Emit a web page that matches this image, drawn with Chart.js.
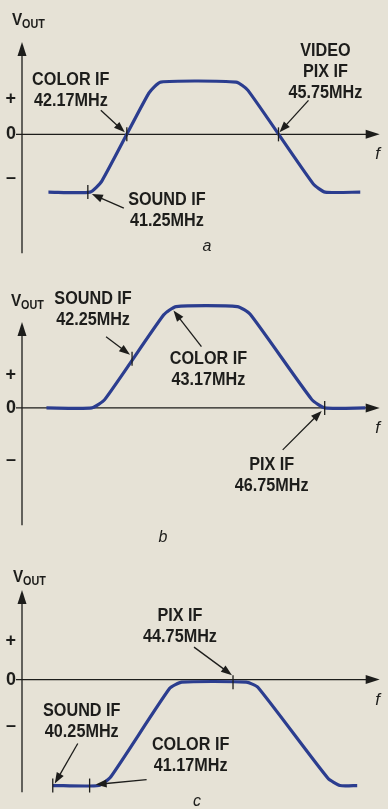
<!DOCTYPE html>
<html>
<head>
<meta charset="utf-8">
<script src="https://cdn.jsdelivr.net/npm/chart.js@4.4.0/dist/chart.umd.min.js"></script>
<style>
  html, body { margin: 0; padding: 0; background: #e6e2d6; }
  body { width: 388px; height: 809px; position: relative; overflow: hidden; }
  canvas { position: absolute; left: 0; }
</style>
</head>
<body>
<canvas id="panelA" width="388" height="270" style="top:0px"></canvas>
<canvas id="panelB" width="388" height="272" style="top:270px"></canvas>
<canvas id="panelC" width="388" height="269" style="top:540px"></canvas>
<script>
// IF response curves: frequency (MHz) against relative output level
const A_FREQ = [40.32, 41.30, 41.58, 42.69, 42.97, 44.75, 45.03, 46.57, 46.85, 47.68];
const A_VOUT = [-1.05, -1.05, -0.85, 0.75, 0.95, 0.95, 0.80, -0.90, -1.05, -1.05];

const B_FREQ = [40.25, 41.31, 41.61, 42.99, 43.28, 44.71, 45.01, 46.45, 46.75, 47.70];
const B_VOUT = [0, 0, 0.16, 1.80, 1.96, 1.96, 1.81, 0.16, 0, 0];

const C_FREQ = [40.25, 41.40, 41.70, 43.17, 43.47, 45.08, 45.37, 47.12, 47.42, 47.85];
const C_VOUT = [-2.05, -2.05, -1.88, -0.17, -0.05, -0.05, -0.15, -1.91, -2.05, -2.05];

// marked carriers on each curve
const A_MARK_NAME = ['SOUND IF', 'COLOR IF', 'VIDEO\nPIX IF'];
const A_MARK_FREQ = [41.25, 42.17, 45.75];
const A_MARK_VOUT = [-1.05, 0, 0];

const B_MARK_NAME = ['SOUND IF', 'COLOR IF', 'PIX IF'];
const B_MARK_FREQ = [42.25, 43.17, 46.75];
const B_MARK_VOUT = [0.95, 1.96, 0];

const C_MARK_NAME = ['SOUND IF', 'COLOR IF', 'PIX IF'];
const C_MARK_FREQ = [40.25, 41.17, 44.75];
const C_MARK_VOUT = [-2.05, -2.05, -0.05];

// level axis labels
const LEVEL_LABELS = ['+', '0', '\u2013'];
const A_LEVEL_AT = [0.64, 0, -0.79];
const B_LEVEL_AT = [0.63, 0, -1.01];
const C_LEVEL_AT = [0.75, 0, -0.89];

const INK = '#1d1d1b';
const CURVE = '#2b3d8f';
const FONT = '"Liberation Sans", Arial, sans-serif';
const SQUEEZE = 0.9;  // condensed lettering

function arrowHead(ctx, x1, y1, x2, y2, len, half) {
  const a = Math.atan2(y2 - y1, x2 - x1);
  const c = Math.cos(a), s = Math.sin(a);
  ctx.beginPath();
  ctx.moveTo(x2, y2);
  ctx.lineTo(x2 - len * c + half * s, y2 - len * s - half * c);
  ctx.lineTo(x2 - len * c - half * s, y2 - len * s + half * c);
  ctx.closePath();
  ctx.fill();
}

function condensed(ctx, text, x, y) {
  ctx.save();
  ctx.translate(x, y);
  ctx.scale(SQUEEZE, 1);
  ctx.fillText(text, 0, 0);
  ctx.restore();
}

const figure = {
  id: 'figure',
  beforeDatasetsDraw(chart) {
    const { ctx, chartArea: area, scales: { y } } = chart;
    const y0 = y.getPixelForValue(0);
    ctx.save();
    ctx.strokeStyle = INK;
    ctx.fillStyle = INK;
    ctx.lineWidth = 1.3;
    ctx.beginPath();
    ctx.moveTo(area.left - 6, y0);
    ctx.lineTo(area.right - 8, y0);
    ctx.moveTo(area.left, area.bottom);
    ctx.lineTo(area.left, area.top + 8);
    ctx.stroke();
    arrowHead(ctx, area.left - 6, y0, area.right, y0, 14, 4.5);
    arrowHead(ctx, area.left, area.bottom, area.left, area.top, 14, 4.5);
    ctx.restore();
  },
  afterDatasetsDraw(chart, args, opts) {
    const { ctx, chartArea: area, scales: { x, y } } = chart;
    const y0 = y.getPixelForValue(0);
    ctx.save();
    ctx.fillStyle = INK;
    ctx.strokeStyle = INK;

    // axis names
    ctx.textAlign = 'left';
    ctx.textBaseline = 'alphabetic';
    ctx.font = 'bold 17px ' + FONT;
    const vx = area.left + opts.vout[0], vy = area.top + opts.vout[1];
    condensed(ctx, 'V', vx, vy);
    ctx.font = 'bold 12px ' + FONT;
    condensed(ctx, 'OUT', vx + 10, vy + 3);
    ctx.font = 'italic 17px ' + FONT;
    ctx.textAlign = 'center';
    ctx.fillText('f', area.right - 2, y0 + 25);

    // panel letter
    ctx.font = 'italic 16px ' + FONT;
    ctx.fillText(opts.caption, opts.captionAt[0], opts.captionAt[1]);

    // carrier notes with leader arrows
    ctx.font = 'bold 18px ' + FONT;
    ctx.lineWidth = 1.3;
    opts.freq.forEach((f, i) => {
      const px = x.getPixelForValue(f);
      const py = y.getPixelForValue(opts.vout0[i]);
      const note = opts.notes[i];
      const lines = opts.names[i].split('\n').concat(f.toFixed(2) + 'MHz');
      lines.forEach((t, k) => {
        condensed(ctx, t, px + note.dx, py + note.dy + k * 21 + 7);
      });
      const x1 = px + note.from[0], y1 = py + note.from[1];
      const x2 = px + note.to[0], y2 = py + note.to[1];
      const a = Math.atan2(y2 - y1, x2 - x1);
      ctx.beginPath();
      ctx.moveTo(x1, y1);
      ctx.lineTo(x2 - 8 * Math.cos(a), y2 - 8 * Math.sin(a));
      ctx.stroke();
      arrowHead(ctx, x1, y1, x2, y2, 11, 4);
    });
    ctx.restore();
  }
};

function panel(id, cfg) {
  const curve = cfg.freq.map((f, i) => ({ x: f, y: cfg.vout[i] }));
  const marks = cfg.markFreq.map((f, i) => ({ x: f, y: cfg.markVout[i] }));
  return new Chart(document.getElementById(id), {
    type: 'line',
    data: {
      datasets: [
        {
          data: marks,
          showLine: false,
          pointStyle: 'line',
          rotation: 90,
          pointRadius: 7,
          pointBorderWidth: 1.3,
          pointBorderColor: INK,
          pointBackgroundColor: INK,
          clip: false
        },
        {
          data: curve,
          borderColor: CURVE,
          borderWidth: 3.2,
          pointRadius: 0,
          tension: 0.18,
          fill: false,
          clip: false
        }
      ]
    },
    options: {
      responsive: false,
      animation: false,
      events: [],
      layout: { padding: cfg.padding },
      scales: {
        x: { type: 'linear', display: false, min: cfg.xRange[0], max: cfg.xRange[1] },
        y: {
          min: cfg.yRange[0],
          max: cfg.yRange[1],
          afterFit(scale) { scale.width = 22; },
          afterBuildTicks(scale) { scale.ticks = cfg.levelAt.map(v => ({ value: v })); },
          grid: { display: false, drawTicks: false },
          border: { display: false },
          ticks: {
            autoSkip: false,
            padding: 6,
            color: INK,
            font: { family: FONT, size: 18, weight: 'bold' },
            callback: (v, i) => LEVEL_LABELS[i]
          }
        }
      },
      plugins: {
        legend: { display: false },
        tooltip: { enabled: false },
        figure: {
          caption: cfg.caption,
          captionAt: cfg.captionAt,
          vout: cfg.voutAt,
          freq: cfg.markFreq,
          vout0: cfg.markVout,
          names: cfg.markName,
          notes: cfg.notes
        }
      }
    },
    plugins: [figure]
  });
}

panel('panelA', {
  freq: A_FREQ, vout: A_VOUT,
  markFreq: A_MARK_FREQ, markVout: A_MARK_VOUT, markName: A_MARK_NAME,
  levelAt: A_LEVEL_AT,
  xRange: [39.696, 48.139], yRange: [-2.161, 1.679],
  padding: { top: 42, right: 2, bottom: 13, left: 0 },
  caption: 'a', captionAt: [207, 251], voutAt: [-10, -17],
  notes: [
    { dx: 79, dy: 6, from: [36, 16], to: [4, 2] },
    { dx: -56, dy: -56, from: [-26, -24], to: [-2, -2] },
    { dx: 47, dy: -85, from: [30, -34], to: [1, -2] }
  ]
});

panel('panelB', {
  freq: B_FREQ, vout: B_VOUT,
  markFreq: B_MARK_FREQ, markVout: B_MARK_VOUT, markName: B_MARK_NAME,
  levelAt: B_LEVEL_AT,
  xRange: [39.679, 48.035], yRange: [-2.268, 1.661],
  padding: { top: 52, right: 2, bottom: 0, left: 0 },
  caption: 'b', captionAt: [163, 272], voutAt: [-11, -16],
  notes: [
    { dx: -39, dy: -62, from: [-26, -22], to: [-2, -4] },
    { dx: 37, dy: 50, from: [30, 40], to: [2, 4] },
    { dx: -53, dy: 55, from: [-42, 42], to: [-3, 3] }
  ]
});

panel('panelC', {
  freq: C_FREQ, vout: C_VOUT,
  markFreq: C_MARK_FREQ, markVout: C_MARK_VOUT, markName: C_MARK_NAME,
  levelAt: C_LEVEL_AT,
  xRange: [39.482, 48.412], yRange: [-2.179, 1.732],
  padding: { top: 50, right: 2, bottom: 0, left: 0 },
  caption: 'c', captionAt: [197, 266], voutAt: [-9, -8],
  notes: [
    { dx: 29, dy: -77, from: [25, -42], to: [2, -2] },
    { dx: 101, dy: -43, from: [57, -6], to: [6, -1] },
    { dx: -53, dy: -68, from: [-39, -35], to: [-1, -7] }
  ]
});
</script>
</body>
</html>
